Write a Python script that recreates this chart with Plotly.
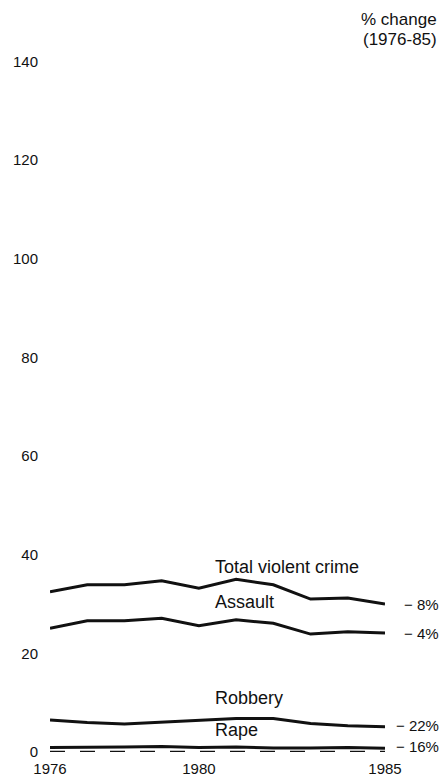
import plotly.graph_objects as go

years = [1976, 1977, 1978, 1979, 1980, 1981, 1982, 1983, 1984, 1985]
total_violent = [32.5, 33.9, 33.9, 34.7, 33.2, 35.0, 33.9, 31.0, 31.2, 30.0]
assault = [25.1, 26.6, 26.6, 27.1, 25.6, 26.8, 26.1, 23.9, 24.4, 24.1]
robbery = [6.5, 6.0, 5.7, 6.1, 6.4, 6.8, 6.8, 5.8, 5.3, 5.1]
rape = [0.9, 0.9, 1.0, 1.1, 0.9, 1.0, 0.8, 0.8, 0.9, 0.76]

series_names = ["Total violent crime", "Assault", "Robbery", "Rape"]
series_values = [total_violent, assault, robbery, rape]
pct_change = ["\u2212 8%", "\u2212 4%", "\u2212 22%", "\u2212 16%"]

y_ticks = [0, 20, 40, 60, 80, 100, 120, 140]
x_ticks = [1976, 1980, 1985]

FONT = "Liberation Sans, Arial, Helvetica, sans-serif"
INK = "#111111"

fig = go.Figure()
for name, vals in zip(series_names, series_values):
    fig.add_trace(go.Scatter(x=years, y=vals, mode="lines", name=name,
                             line=dict(color=INK, width=3), hoverinfo="x+y+name"))

# dashed baseline at zero
fig.add_shape(type="line", xref="x", yref="y", x0=years[0], x1=years[-1], y0=0, y1=0,
              line=dict(color=INK, width=2.4, dash="longdash"))

# series labels on the chart
label_y = [37.4, 30.5, 11.0, 4.4]
for name, ly in zip(series_names, label_y):
    fig.add_annotation(x=1980.38, y=ly, xref="x", yref="y", text=name, showarrow=False,
                       xanchor="left", yanchor="middle",
                       font=dict(family=FONT, size=18, color=INK))

# percent change labels on the right
pct_y = [29.8, 24.1, 5.3, 1.1]
for txt, py in zip(pct_change, pct_y):
    fig.add_annotation(x=1.167, y=py, xref="paper", yref="y", text=txt, showarrow=False,
                       xanchor="right", yanchor="middle",
                       font=dict(family=FONT, size=15, color=INK))

# column heading
heading = ["% change", "(1976-85)"]
heading_y = [148.4, 144.4]
for txt, hy in zip(heading, heading_y):
    fig.add_annotation(x=1.161, y=hy, xref="paper", yref="y", text=txt, showarrow=False,
                       xanchor="right", yanchor="middle",
                       font=dict(family=FONT, size=17, color=INK))

fig.update_layout(
    width=441, height=777,
    margin=dict(l=50, r=56, t=12, b=25),
    paper_bgcolor="white", plot_bgcolor="white",
    showlegend=False,
    font=dict(family=FONT, color=INK),
)
fig.update_xaxes(range=[1976, 1985], tickvals=x_ticks, ticktext=[str(v) for v in x_ticks],
                 showgrid=False, zeroline=False, showline=False, ticks="", automargin=False,
                 tickfont=dict(family=FONT, size=15, color=INK), ticklabelstandoff=6)
fig.update_yaxes(range=[0, 150], tickvals=y_ticks, ticktext=[str(v) for v in y_ticks],
                 showgrid=False, zeroline=False, showline=False, ticks="", automargin=False,
                 tickfont=dict(family=FONT, size=15, color=INK), ticklabelstandoff=11)

fig.write_html(
    "out.html",
    config={"displayModeBar": False},
    post_script=(
        "document.body.style.margin='0';"
        "document.documentElement.style.overflow='hidden';"
        "document.body.style.overflow='hidden';"
    ),
)
